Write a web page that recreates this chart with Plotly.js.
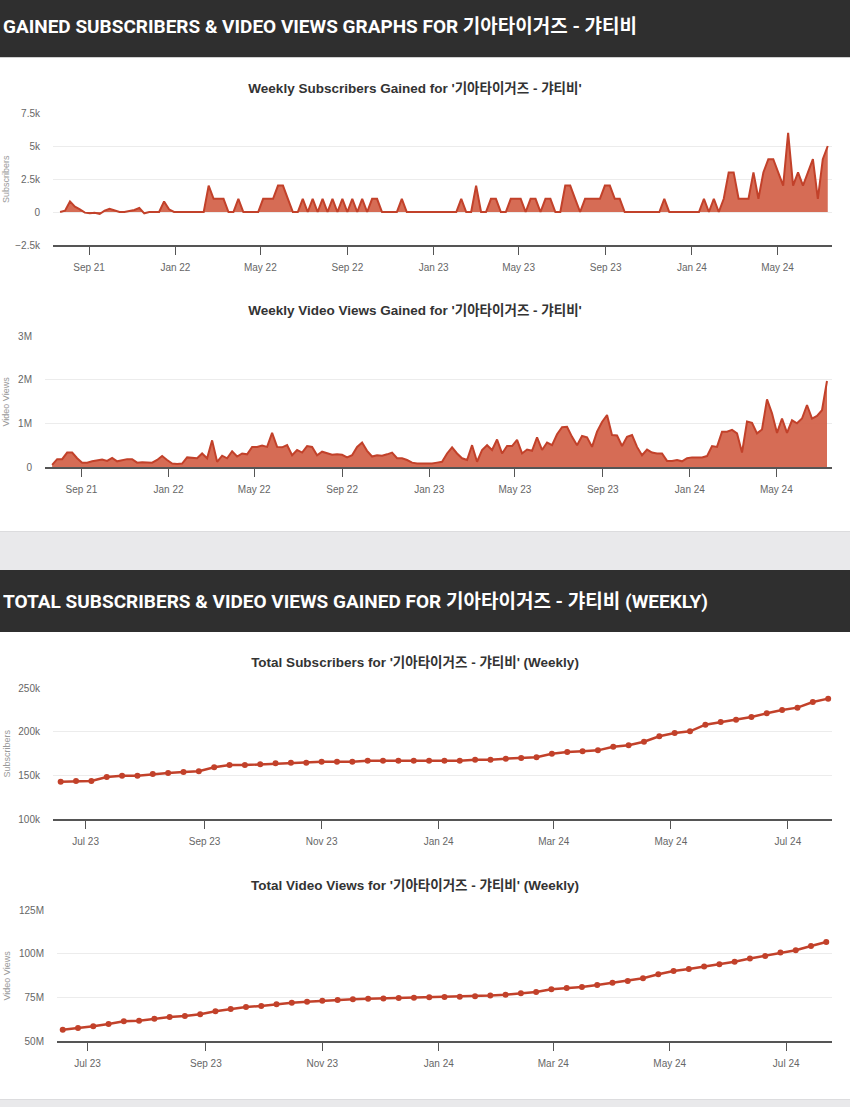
<!DOCTYPE html>
<html>
<head>
<meta charset="utf-8">
<script src="https://cdn.plot.ly/plotly-3.0.1.min.js"></script>
<style>
  html, body { margin:0; padding:0; background:#fff; }
  body { width:850px; height:1107px; position:relative; overflow:hidden; font-family:"Liberation Sans", Arial, "Noto Sans CJK KR", sans-serif; }
  .hdr { position:absolute; left:0; width:850px; background:#2f2f2f; color:#fff; overflow:hidden; }
  .hdr span { position:absolute; left:3px; white-space:nowrap; font-family:Roboto, "Noto Sans CJK KR", sans-serif; font-weight:700; font-size:19px; transform-origin:0 50%; }
  .band { position:absolute; left:0; width:850px; background:#e9e9eb; border-top:1px solid #dcdcde; }
  .chart { position:absolute; left:0; width:850px; }
</style>
</head>
<body>
<div class="hdr" style="top:0;height:57px;border-bottom:1px solid #cfcfcf;"><span id="h1" style="top:11px;">GAINED SUBSCRIBERS &amp; VIDEO VIEWS GRAPHS FOR 기아타이거즈 - 갸티비</span></div>
<div class="band" style="top:531px;height:38px;"></div>
<div class="hdr" style="top:570px;height:62px;"><span id="h2" style="top:16px;">TOTAL SUBSCRIBERS &amp; VIDEO VIEWS GAINED FOR 기아타이거즈 - 갸티비 (WEEKLY)</span></div>
<div class="band" style="top:1099px;height:8px;"></div>
<div id="c1" class="chart" style="top:60px;height:230px;"></div>
<div id="c2" class="chart" style="top:290px;height:220px;"></div>
<div id="c3" class="chart" style="top:640px;height:220px;"></div>
<div id="c4" class="chart" style="top:860px;height:220px;"></div>
<script>
// ---------- DATA ----------
const channelName = "기아타이거즈 - 갸티비";
const weeklyStart = "2021-07-22";   // first weekly point
const weeklyCount = 156;
const totalStart = "2023-06-18";    // first point of total charts
const totalCount = 51;
const totalStepDays = 8;

const subscribersWeekly = [
  0, 100, 800, 400, 200, -50, -100, -50, -150, 100,
  250, 100, 0, 0, 50, 150, 300, -100, 0, 0,
  0, 800, 200, 0, 0, 0, 0, 0, 0, 0,
  2000, 1000, 1000, 1000, 0, 0, 1000, 0, 0, 0,
  0, 1000, 1000, 1000, 2000, 2000, 1000, 0, 0, 1000,
  0, 1000, 0, 1000, 0, 1000, 0, 1000, 0, 1000,
  0, 1000, 0, 1000, 1000, 0, 0, 0, 0, 1000,
  0, 0, 0, 0, 0, 0, 0, 0, 0, 0,
  0, 1000, 0, 0, 2000, 0, 0, 1000, 1000, 0,
  0, 1000, 1000, 1000, 0, 1000, 1000, 0, 1000, 1000,
  0, 0, 2000, 2000, 1000, 0, 1000, 1000, 1000, 1000,
  2000, 2000, 1000, 1000, 0, 0, 0, 0, 0, 0,
  0, 0, 1000, 0, 0, 0, 0, 0, 0, 0,
  1000, 0, 1000, 0, 1000, 3000, 3000, 1000, 1000, 1000,
  3000, 1000, 3000, 4000, 4000, 3000, 2000, 6000, 2000, 3000,
  2000, 3000, 4000, 1000, 4000, 5000
];

const viewsWeekly = [
  50000, 180000, 180000, 330000, 330000, 200000, 100000, 100000, 130000, 150000,
  170000, 140000, 210000, 130000, 150000, 180000, 180000, 100000, 110000, 100000,
  100000, 160000, 250000, 160000, 80000, 70000, 80000, 220000, 210000, 200000,
  310000, 200000, 610000, 120000, 260000, 200000, 360000, 240000, 310000, 290000,
  460000, 460000, 490000, 460000, 780000, 460000, 450000, 500000, 270000, 390000,
  330000, 480000, 460000, 270000, 350000, 310000, 280000, 290000, 280000, 220000,
  270000, 460000, 560000, 370000, 240000, 270000, 260000, 290000, 330000, 200000,
  200000, 160000, 100000, 80000, 80000, 80000, 80000, 100000, 120000, 310000,
  450000, 310000, 200000, 160000, 500000, 120000, 390000, 500000, 390000, 630000,
  310000, 480000, 480000, 620000, 310000, 400000, 370000, 680000, 390000, 560000,
  500000, 750000, 910000, 920000, 690000, 500000, 710000, 680000, 460000, 810000,
  1030000, 1190000, 730000, 720000, 480000, 690000, 730000, 460000, 270000, 400000,
  330000, 310000, 310000, 140000, 140000, 160000, 130000, 200000, 220000, 220000,
  220000, 250000, 480000, 460000, 810000, 810000, 850000, 770000, 330000, 1040000,
  1010000, 770000, 860000, 1550000, 1230000, 780000, 1110000, 780000, 1070000, 1000000,
  1110000, 1420000, 1110000, 1170000, 1300000, 1970000
];

const subscribersTotal = [
  142700, 143500, 143500, 148100, 149600, 149600, 151500, 152700, 153800, 154600,
  159200, 161800, 161800, 162600, 163700, 164500, 164500, 165600, 165600, 165600,
  166800, 166800, 166800, 166800, 166800, 166800, 166800, 167900, 167900, 169100,
  169800, 170600, 174800, 176700, 177500, 178600, 182800, 184400, 188500, 194700,
  198500, 200400, 208000, 211100, 213700, 216800, 221000, 224800, 227500, 234000,
  237800
];

const viewsTotal = [
  56500000, 57400000, 58400000, 59700000, 61300000, 61600000, 62800000, 63700000, 64300000, 65300000,
  67000000, 68300000, 69500000, 70000000, 71000000, 71900000, 72500000, 73100000, 73500000, 73900000,
  74200000, 74400000, 74600000, 74800000, 75000000, 75200000, 75400000, 75600000, 76000000, 76500000,
  77300000, 78100000, 79600000, 80300000, 80900000, 82100000, 83400000, 84400000, 85900000, 88200000,
  90100000, 91200000, 92600000, 93900000, 95400000, 97200000, 98700000, 100600000, 102000000, 104400000,
  106700000
];

const titles = [
  "Weekly Subscribers Gained for '" + channelName + "'",
  "Weekly Video Views Gained for '" + channelName + "'",
  "Total Subscribers for '" + channelName + "' (Weekly)",
  "Total Video Views for '" + channelName + "' (Weekly)"
];
const yTitles = ["Subscribers", "Video Views", "Subscribers", "Video Views"];

// ---------- helpers ----------
function dateSeq(start, n, step) {
  const out = [];
  const d0 = new Date(start + "T00:00:00Z");
  for (let i = 0; i < n; i++) {
    const d = new Date(d0.getTime() + i * step * 86400000);
    out.push(d.toISOString().slice(0, 10));
  }
  return out;
}
const weeklyDates = dateSeq(weeklyStart, weeklyCount, 7);
const totalDates = dateSeq(totalStart, totalCount, totalStepDays);

const RED_LINE = "#c2412a";
const RED_FILL = "rgba(212,100,76,0.95)";
const FONT = '"Liberation Sans", Arial, "Noto Sans CJK KR", sans-serif';

function baseLayout(o) {
  return {
    width: 850, height: o.h,
    margin: {l: o.l, r: 18, t: o.t, b: o.b, pad: 0},
    paper_bgcolor: "rgba(0,0,0,0)", plot_bgcolor: "rgba(0,0,0,0)",
    showlegend: false,
    hovermode: false,
    font: {family: FONT, color: "#666", size: 10},
    title: {
      text: o.title, x: 415/850, xanchor: "center", xref: "container",
      y: 1 - o.ty / o.h, yanchor: "middle", yref: "container",
      font: {family: FONT, size: 13.5, color: "#333", weight: 700}
    },
    xaxis: {
      type: "date", range: o.xr, tickformat: "%b %y",
      dtick: o.dtick, tick0: o.tick0,
      showline: true, linecolor: "#555", linewidth: 1.5,
      ticks: "outside", ticklen: 8, tickcolor: "#555", tickwidth: 1,
      showgrid: false, zeroline: false,
      tickfont: {family: FONT, size: 10, color: "#666"},
      ticklabelstandoff: 4
    },
    yaxis: {
      range: o.yr, tickvals: o.yt, tickformat: "~s",
      showgrid: true, gridcolor: "#ececec", gridwidth: 1,
      zeroline: false, showline: false, ticks: "",
      tickfont: {family: FONT, size: 10, color: "#666"},
      ticklabelstandoff: 12
    },
    annotations: [{
      text: o.ytitle, xref: "paper", yref: "paper", x: 0, y: 0.5,
      xanchor: "center", yanchor: "middle", xshift: o.ytx, textangle: -90,
      showarrow: false, font: {family: FONT, size: 9, color: "#999"}
    }]
  };
}

const cfg = {staticPlot: true, displayModeBar: false};

Plotly.newPlot("c1", [{
  type: "scatter", mode: "lines", x: weeklyDates, y: subscribersWeekly,
  fill: "tozeroy", fillcolor: RED_FILL, line: {color: RED_LINE, width: 2}
}], baseLayout({h: 230, l: 53, t: 53, b: 45, ty: 28, title: titles[0],
  xr: ["2021-07-12", "2024-07-17"], dtick: "M4", tick0: "2021-09-01",
  yr: [-2500, 7500], yt: [-2500, 0, 2500, 5000, 7500], ytitle: yTitles[0], ytx: -47}), cfg);

Plotly.newPlot("c2", [{
  type: "scatter", mode: "lines", x: weeklyDates, y: viewsWeekly,
  fill: "tozeroy", fillcolor: RED_FILL, line: {color: RED_LINE, width: 2}
}], baseLayout({h: 220, l: 45, t: 46, b: 43, ty: 20, title: titles[1],
  xr: ["2021-07-12", "2024-07-18"], dtick: "M4", tick0: "2021-09-01",
  yr: [0, 3000000], yt: [0, 1000000, 2000000, 3000000], ytitle: yTitles[1], ytx: -40}), cfg);

Plotly.newPlot("c3", [{
  type: "scatter", mode: "lines+markers", x: totalDates, y: subscribersTotal,
  line: {color: RED_LINE, width: 2.5}, marker: {color: RED_LINE, size: 6}
}], baseLayout({h: 220, l: 53, t: 48, b: 41, ty: 22, title: titles[2],
  xr: ["2023-06-14", "2024-07-24"], dtick: "M2", tick0: "2023-07-01",
  yr: [100000, 250000], yt: [100000, 150000, 200000, 250000], ytitle: yTitles[2], ytx: -47}), cfg);

Plotly.newPlot("c4", [{
  type: "scatter", mode: "lines+markers", x: totalDates, y: viewsTotal,
  line: {color: RED_LINE, width: 2.5}, marker: {color: RED_LINE, size: 6}
}], baseLayout({h: 220, l: 57, t: 50, b: 39, ty: 25, title: titles[3],
  xr: ["2023-06-15", "2024-07-25"], dtick: "M2", tick0: "2023-07-01",
  yr: [50000000, 125000000], yt: [50000000, 75000000, 100000000, 125000000], ytitle: yTitles[3], ytx: -51}), cfg);

// fit condensed-looking headers to the reference widths
function fit(id, target) {
  const el = document.getElementById(id);
  const w = el.getBoundingClientRect().width;
  if (w > 0) el.style.transform = "scaleX(" + (target / w) + ")";
}
fit("h1", 634);
fit("h2", 705);
</script>
</body>
</html>
